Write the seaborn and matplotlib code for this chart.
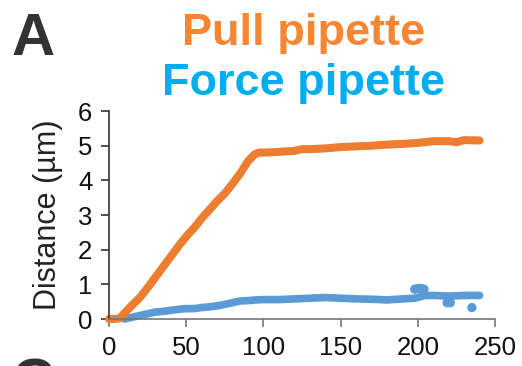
import matplotlib
matplotlib.use("Agg")
import matplotlib.pyplot as plt
import seaborn as sns
import pandas as pd

# Pull pipette displacement over time (s, µm)
pull_time = [0, 3, 7, 10, 15, 20, 25, 30, 35, 40, 45, 50, 55, 60, 65, 70, 75, 80,
             85, 90, 94, 97, 100, 110, 120, 125, 130, 140, 150, 160, 170, 180, 190,
             200, 210, 220, 225, 230, 240]
pull_dist = [0.0, 0.0, 0.02, 0.17, 0.40, 0.62, 0.90, 1.20, 1.50, 1.80, 2.10, 2.38,
             2.62, 2.90, 3.15, 3.40, 3.62, 3.90, 4.20, 4.55, 4.74, 4.80, 4.80, 4.82,
             4.85, 4.90, 4.90, 4.92, 4.96, 4.98, 5.00, 5.03, 5.05, 5.08, 5.13, 5.13,
             5.10, 5.16, 5.15]

# Force pipette displacement over time (s, µm)
force_time = [10, 15, 20, 25, 30, 35, 40, 45, 50, 55, 60, 65, 70, 75, 80, 85, 90,
              95, 100, 110, 120, 130, 140, 150, 160, 170, 180, 190, 198, 205, 210,
              220, 230, 240]
force_dist = [0.0, 0.05, 0.10, 0.15, 0.20, 0.22, 0.25, 0.28, 0.30, 0.30, 0.33, 0.35,
              0.38, 0.42, 0.47, 0.52, 0.53, 0.55, 0.56, 0.56, 0.58, 0.60, 0.62, 0.60,
              0.58, 0.57, 0.55, 0.58, 0.60, 0.68, 0.68, 0.66, 0.68, 0.68]

# Isolated force-pipette readings
force_blip_time = [198, 200, 202, 204, 219, 221, 235]
force_blip_dist = [0.86, 0.88, 0.88, 0.86, 0.47, 0.47, 0.33]

x_ticks = [0, 50, 100, 150, 200, 250]
y_ticks = [0, 1, 2, 3, 4, 5, 6]

ORANGE = "#ED7D31"
BLUE = "#5B9BD5"

sns.set_theme(style="ticks")
plt.rcParams["font.family"] = ["Liberation Sans", "DejaVu Sans"]

fig = plt.figure(figsize=(5.22, 3.66), dpi=100)
ax = fig.add_axes([0.2088, 0.1284, 0.7395, 0.5683])

pull_df = pd.DataFrame({"t": pull_time, "d": pull_dist})
force_df = pd.DataFrame({"t": force_time, "d": force_dist})
blip_df = pd.DataFrame({"t": force_blip_time, "d": force_blip_dist})

sns.lineplot(data=force_df, x="t", y="d", ax=ax, color=BLUE, linewidth=5.5,
             solid_capstyle="round", solid_joinstyle="round", clip_on=False)
sns.scatterplot(data=blip_df, x="t", y="d", ax=ax, color=BLUE, s=45,
                edgecolor="none", clip_on=False)
sns.lineplot(data=pull_df, x="t", y="d", ax=ax, color=ORANGE, linewidth=5.8,
             solid_capstyle="round", solid_joinstyle="round", clip_on=False)

ax.set_xlim(0, 250)
ax.set_ylim(0, 6)
ax.set_xticks(x_ticks)
ax.set_yticks(y_ticks)
ax.set_xlabel("")
ax.set_ylabel("Distance (µm)", fontsize=22, color="#222222", labelpad=11)

for side in ("top", "right"):
    ax.spines[side].set_visible(False)
ax.spines["left"].set_color("#333333")
ax.spines["bottom"].set_color("#777777")
ax.spines["left"].set_linewidth(1.2)
ax.spines["bottom"].set_linewidth(1.2)
ax.tick_params(axis="y", labelsize=18.5, length=6, width=1.2, pad=6,
               color="#333333", labelcolor="#111111")
ax.tick_params(axis="x", labelsize=18.5, length=6, width=1.2, pad=6,
               color="#777777", labelcolor="#111111")

fig.text(0.582, 1 - 45 / 366, "Pull pipette", color="#F58634", fontsize=32.5,
         fontweight="bold", ha="center", va="baseline")
fig.text(0.582, 1 - 95 / 366, "Force pipette", color="#00AEEF", fontsize=32.5,
         fontweight="bold", ha="center", va="baseline")
fig.text(12 / 522, 1 - 55 / 366, "A", color="#333333", fontsize=43,
         fontweight="bold", ha="left", va="baseline")
fig.text(12 / 522, 1 - 400 / 366, "C", color="#333333", fontsize=43,
         fontweight="bold", ha="left", va="baseline")

fig.savefig("out.png", dpi=100)
